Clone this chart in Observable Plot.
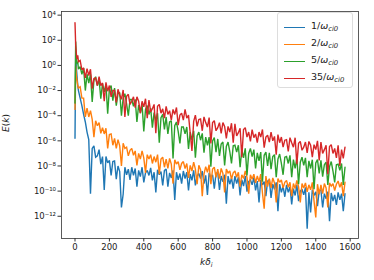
<!DOCTYPE html>
<html>
<head>
<meta charset="utf-8">
<script src="https://cdn.jsdelivr.net/npm/d3@7"></script>
<script src="https://cdn.jsdelivr.net/npm/@observablehq/plot@0.6"></script>
<style>
  body { margin: 0; background: #fff; }
  #wrap { position: relative; width: 374px; height: 280px; font-family: "DejaVu Sans", sans-serif; color: #222; }
  .lbl { position: absolute; font-size: 9px; white-space: nowrap; }
  #legend { position: absolute; left: 277px; top: 12px; width: 76px; height: 76px; border: 1px solid #ddd; border-radius: 3px; background: rgba(255,255,255,0.85); box-sizing: border-box; }
  .row { position: absolute; left: 6px; height: 12px; font-size: 9.5px; }
  .row .sw { position: absolute; left: 0; top: 6px; width: 21px; height: 0; border-top: 1.4px solid; }
  .row .tx { position: absolute; left: 27px; top: -1px; white-space: nowrap; }
  sub { font-size: 0.72em; vertical-align: -0.3em; line-height: 0; }
</style>
</head>
<body>
<div id="wrap"></div>
<script>
// k grid (early fine samples, then step 10)
const kEarly = [0, 4, 8, 12, 16, 20];
const kGrid = kEarly.concat(d3.range(30, 1571, 10));

// log10 E(k) values
const logE1 = [
  -5.8, 0.8, -0.2, -0.9, -1.6, -2.0,
  -2.6, -3.2, -3.9, -4.5, -5.3, -5.9, -10.2, -6.6, -6.4, -7.3,
  -7.2, -6.7, -7.85, -7.25, -9.9, -7.25, -7.75, -7.55, -8.75, -7.65,
  -7.6, -9.05, -8.0, -8.45, -11.3, -10.25, -8.1, -8.7, -8.25, -9.1,
  -8.1, -8.75, -8.2, -9.65, -8.35, -8.85, -8.1, -9.3, -8.55, -8.35,
  -8.75, -8.15, -9.15, -8.5, -10.1, -8.3, -8.7, -8.45, -9.55, -8.35,
  -8.25, -9.65, -8.55, -8.95, -8.35, -10.7, -8.5, -9.1, -8.6, -9.4,
  -8.4, -9.0, -8.5, -9.95, -8.65, -9.15, -8.35, -9.55, -8.8, -8.6,
  -9.0, -8.4, -9.4, -8.75, -10.3, -8.55, -8.95, -8.7, -9.8, -8.6,
  -8.5, -9.9, -8.8, -9.25, -8.7, -11.0, -8.8, -9.45, -8.95, -9.8,
  -8.8, -9.4, -8.9, -10.35, -9.1, -9.6, -8.8, -10.05, -9.25, -9.1,
  -9.5, -8.9, -9.95, -9.2, -10.9, -9.1, -9.5, -9.25, -10.4, -9.2,
  -9.1, -10.55, -9.45, -9.85, -9.3, -11.6, -9.45, -10.1, -9.6, -10.45,
  -9.5, -10.1, -9.65, -11.05, -9.8, -10.35, -9.5, -10.8, -10.0, -9.85,
  -10.3, -9.7, -13.0, -10.1, -11.7, -9.9, -10.35, -10.05, -11.2, -9.95,
  -9.9, -11.3, -10.2, -10.6, -10.05, -12.4, -10.15, -10.8, -10.3, -11.1,
  -10.1, -10.7, -10.2, -11.6, -10.2
];
const logE2 = [
  -3.5, 0.0, -0.9, -1.2, -1.6, -1.8,
  -1.7, -2.6, -2.6, -4.1, -3.4, -4.1, -3.6, -4.3, -5.7, -4.4,
  -4.8, -4.55, -5.4, -4.95, -5.45, -5.0, -6.6, -5.5, -5.45, -6.35,
  -5.8, -6.6, -5.9, -6.4, -8.0, -6.2, -6.6, -6.5, -7.2, -6.75,
  -6.6, -7.15, -6.8, -7.95, -7.0, -7.45, -6.8, -7.35, -8.55, -7.1,
  -7.45, -7.1, -7.8, -7.25, -7.7, -7.1, -8.65, -7.45, -7.3, -8.1,
  -7.45, -8.2, -7.4, -7.85, -9.4, -7.5, -7.85, -7.65, -8.3, -7.8,
  -7.65, -8.2, -7.8, -8.95, -7.95, -8.4, -7.7, -8.25, -9.45, -7.95,
  -8.3, -10.4, -8.65, -8.05, -8.5, -7.9, -9.45, -8.25, -8.1, -8.9,
  -8.25, -9.0, -8.2, -8.6, -10.1, -8.25, -8.55, -8.4, -9.05, -8.55,
  -8.4, -8.9, -8.5, -9.65, -8.7, -9.0, -8.4, -8.9, -10.2, -8.7,
  -9.05, -8.65, -9.35, -8.8, -9.25, -8.65, -10.15, -11.4, -8.8, -9.65,
  -9.0, -9.75, -8.95, -9.35, -10.9, -9.0, -9.3, -9.1, -9.75, -9.3,
  -9.15, -9.7, -9.3, -10.4, -9.4, -9.8, -9.15, -9.65, -10.9, -9.4,
  -9.75, -9.35, -10.05, -9.5, -9.9, -9.3, -10.8, -12.1, -9.45, -10.25,
  -9.5, -10.2, -9.4, -9.75, -11.3, -9.35, -9.6, -9.4, -9.95, -9.45,
  -9.2, -9.7, -9.3, -10.4, -9.3
];
const logE5 = [
  -3.0, 1.9, 0.6, 0.1, 0.3, -0.3,
  -0.1, -0.7, -0.2, -2.0, -0.7, -1.4, -0.7, -2.9, -1.2, -0.9,
  -1.6, -1.1, -2.65, -1.45, -2.1, -1.5, -3.85, -1.85, -1.6, -2.8,
  -1.8, -3.2, -2.25, -2.15, -4.0, -2.6, -2.25, -3.05, -4.0, -2.7,
  -2.7, -3.25, -2.7, -4.5, -3.15, -3.8, -3.1, -5.25, -3.5, -3.2,
  -3.9, -3.4, -4.95, -3.75, -4.4, -3.8, -6.15, -4.15, -3.9, -5.1,
  -4.1, -5.45, -4.5, -4.4, -7.4, -4.8, -4.5, -5.25, -6.2, -4.9,
  -4.9, -5.45, -4.9, -6.65, -5.3, -5.95, -5.2, -7.35, -5.6, -5.3,
  -5.95, -5.4, -6.95, -5.7, -6.35, -5.7, -8.05, -6.0, -5.75, -6.9,
  -5.85, -7.2, -6.25, -6.1, -7.95, -6.45, -6.1, -6.85, -7.8, -6.4,
  -6.35, -6.9, -6.35, -8.1, -6.7, -7.35, -6.6, -8.75, -7.0, -6.6,
  -7.25, -6.7, -8.2, -6.95, -7.6, -6.9, -9.25, -7.15, -6.9, -8.0,
  -6.95, -8.25, -7.25, -7.1, -8.9, -7.45, -7.05, -7.8, -8.7, -7.3,
  -7.25, -7.8, -7.15, -8.9, -7.5, -8.2, -7.35, -9.45, -7.7, -7.3,
  -7.95, -7.35, -8.9, -7.6, -8.2, -7.5, -9.85, -7.75, -7.5, -8.6,
  -7.55, -8.85, -7.9, -7.7, -9.5, -8.05, -7.65, -8.4, -9.3, -7.9,
  -7.85, -8.35, -7.8, -9.5, -8.1
];
const logE35 = [
  3.4, 1.6, 0.9, 0.5, 0.8, 0.3,
  0.4, -0.35, -0.2, -1.0, -0.25, -0.8, -0.3, -1.85, -1.05, -1.0,
  -1.6, -0.9, -1.6, -1.4, -2.85, -1.35, -2.05, -1.6, -2.5, -2.0,
  -2.0, -2.95, -1.9, -2.35, -2.7, -1.95, -4.1, -2.45, -2.3, -3.1,
  -2.85, -2.5, -3.35, -2.5, -2.85, -3.8, -2.85, -3.3, -2.65, -4.2,
  -2.75, -3.7, -3.45, -3.1, -5.4, -3.25, -3.1, -3.8, -3.45, -4.2,
  -3.25, -3.9, -3.6, -4.35, -3.5, -3.9, -3.35, -4.75, -3.95, -3.8,
  -4.35, -3.5, -4.2, -3.95, -5.4, -6.8, -4.45, -3.95, -4.85, -4.3,
  -4.25, -5.2, -4.1, -4.55, -4.9, -4.15, -6.2, -4.55, -4.4, -5.2,
  -4.95, -4.55, -5.4, -4.55, -4.85, -5.8, -4.85, -5.3, -4.6, -6.15,
  -4.65, -5.6, -5.35, -5.0, -7.3, -5.1, -4.95, -5.7, -5.3, -6.05,
  -5.1, -5.75, -5.45, -6.15, -5.3, -5.7, -5.1, -6.55, -5.7, -5.55,
  -6.1, -5.3, -6.0, -5.65, -7.1, -5.5, -6.15, -5.7, -6.5, -5.95,
  -5.9, -6.85, -5.75, -6.15, -6.5, -5.75, -7.85, -6.2, -6.05, -6.75,
  -6.5, -6.1, -6.95, -6.05, -6.35, -7.3, -6.3, -6.7, -6.0, -7.55,
  -6.1, -7.0, -6.7, -6.35, -8.65, -6.45, -6.3, -7.0, -6.6, -7.35,
  -6.35, -8.0, -6.7, -7.4, -6.5
];

const seriesNames = ["1", "2", "5", "35"];
const seriesLogs = [logE1, logE2, logE5, logE35];
const colors = ["#1f77b4", "#ff7f0e", "#2ca02c", "#d62728"];
const xTicks = [0, 200, 400, 600, 800, 1000, 1200, 1400, 1600];
const yExps = [-12, -10, -8, -6, -4, -2, 0, 2, 4];

seriesLogs.forEach((a, i) => { if (a.length !== kGrid.length) throw new Error("len " + i + " " + a.length + " vs " + kGrid.length); });

const supMap = {"-": "\u207B", "0": "\u2070", "1": "\u00B9", "2": "\u00B2", "3": "\u00B3", "4": "\u2074", "5": "\u2075", "6": "\u2076", "7": "\u2077", "8": "\u2078", "9": "\u2079"};
const sup = s => String(s).split("").map(c => supMap[c]).join("");

const datasets = seriesLogs.map((arr, si) => kGrid.map((k, i) => ({k, E: Math.pow(10, arr[i]), s: seriesNames[si]})));

const chart = Plot.plot({
  width: 374,
  height: 280,
  marginLeft: 61,
  marginRight: 16,
  marginTop: 11,
  marginBottom: 42,
  style: {fontFamily: "DejaVu Sans", fontSize: "8.5px", color: "#222", background: "#fff"},
  x: {domain: [-78.5, 1648.5]},
  y: {type: "log", domain: [Math.pow(10, -13.77), Math.pow(10, 4.29)]},
  marks: [
    ...datasets.map((d, i) => Plot.line(d, {x: "k", y: "E", stroke: colors[i], strokeWidth: 1.4, strokeLinejoin: "miter", strokeMiterlimit: 2})),
    Plot.frame({stroke: "#333", strokeWidth: 0.8}),
    Plot.axisX(xTicks, {tickSize: 3.5, tickPadding: 2, label: null, tickFormat: d => String(d), stroke: "#333"}),
    Plot.axisY(yExps.map(e => Math.pow(10, e)), {tickSize: 3.5, tickPadding: 2, label: null,
      tickFormat: d => "10" + sup(Math.round(Math.log10(d))), stroke: "#333"})
  ]
});

const wrap = document.getElementById("wrap");
wrap.appendChild(chart);

// axis labels
const xl = document.createElement("div");
xl.className = "lbl";
xl.style.left = "200px"; xl.style.top = "257px";
xl.innerHTML = "<i>k&delta;<sub>i</sub></i>";
wrap.appendChild(xl);

const yl = document.createElement("div");
yl.className = "lbl";
yl.style.left = "-3px"; yl.style.top = "118px";
yl.style.transform = "rotate(-90deg)";
yl.innerHTML = "<i>E</i>(<i>k</i>)";
wrap.appendChild(yl);

// legend
const lg = document.createElement("div");
lg.id = "legend";
seriesNames.forEach((n, i) => {
  const r = document.createElement("div");
  r.className = "row";
  r.style.top = (8 + i * 17) + "px";
  r.innerHTML = `<div class="sw" style="border-color:${colors[i]}"></div><div class="tx">${n}/<i>&omega;<sub>ci0</sub></i></div>`;
  lg.appendChild(r);
});
wrap.appendChild(lg);
</script>
</body>
</html>
